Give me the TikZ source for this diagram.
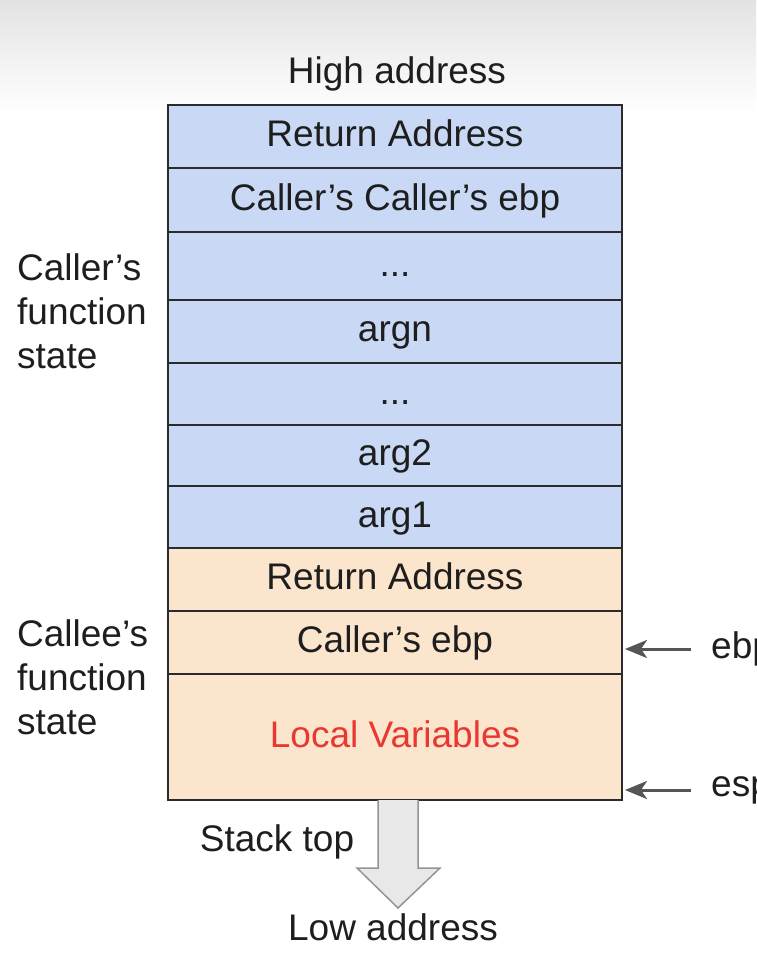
\documentclass[tikz,border=0pt]{standalone}
\usepackage{fontspec}
\setmainfont{Liberation Sans}
\usepackage{xcolor}
\usepackage{tikz}
\usetikzlibrary{positioning,calc,arrows.meta}

\definecolor{callerblue}{HTML}{C9D9F5}
\definecolor{calleepeach}{HTML}{FCE5CD}
\definecolor{framegray}{HTML}{2B2B2B}
\definecolor{inkgray}{HTML}{1E1E1E}
\definecolor{localred}{HTML}{E8382F}
\definecolor{ptrgray}{HTML}{555555}

\tikzset{
  cell/.style={draw=framegray,line width=2.5pt,minimum width=454pt,inner sep=0pt,outer sep=0pt,
    text height=27pt,text depth=7pt,text=inkgray},
  callercell/.style={cell,fill=callerblue},
  calleecell/.style={cell,fill=calleepeach},
  sidelabel/.style={align=left,anchor=west,inner sep=0pt,text=inkgray},
  ptr/.style={draw=ptrgray,line width=3pt,-{Stealth[length=22pt,width=18pt,inset=6pt]},shorten >=3pt}
}

\begin{document}
\begin{tikzpicture}[x=1pt,y=-1pt,font=\fontsize{37}{44}\selectfont]
    \useasboundingbox (0,0) rectangle (756,962);
    \clip (0,0) rectangle (756,962);
    \shade[top color=black!11,bottom color=white] (0,0) rectangle (756,112);

    \node[text=inkgray] (high) at (397,74) {High address};

    % Caller's frame
    \node[callercell,minimum height=63pt,anchor=north] (ret1) at (395,105) {Return Address};
    \node[callercell,minimum height=64pt,below=0pt of ret1] (cc) {Caller's Caller's ebp};
    \node[callercell,minimum height=68pt,below=0pt of cc] (dots1) {...};
    \node[callercell,minimum height=63pt,below=0pt of dots1] (argn) {argn};
    \node[callercell,minimum height=62pt,below=0pt of argn] (dots2) {...};
    \node[callercell,minimum height=61pt,below=0pt of dots2] (arg2) {arg2};
    \node[callercell,minimum height=62pt,below=0pt of arg2] (arg1) {arg1};

    % Callee's frame
    \node[calleecell,minimum height=63pt,below=0pt of arg1] (ret2) {Return Address};
    \node[calleecell,minimum height=63pt,below=0pt of ret2] (cebp) {Caller's ebp};
    \node[calleecell,minimum height=126pt,below=0pt of cebp,text=localred] (lv) {Local Variables};

    % Side labels
    \node[sidelabel] (callerlbl) at (17,311) {Caller's\\function\\state};
    \node[sidelabel] (calleelbl) at (17,677) {Callee's\\function\\state};

    % Register pointers
    \node[anchor=west,inner sep=0pt,text=inkgray] (ebp) at (711,649) {ebp};
    \node[anchor=west,inner sep=0pt,text=inkgray] (esp) at (711,790) {esp};
    \draw[ptr] ([xshift=-20pt]ebp.west) -- (cebp.east |- ebp.west);
    \draw[ptr] ([xshift=-20pt]esp.west) -- (lv.east |- esp.west);

    % Growth arrow
    \coordinate (grow) at ($(lv.south)+(3,0)$);
    \draw[draw=black!42,fill=black!9,line width=1.5pt,line join=miter]
      ($(grow)+(-20,0)$) -- ++(0,68) -- ++(-21,0) -- ($(grow)+(0,108)$)
      -- ($(grow)+(42,68)$) -- ++(-22,0) -- ($(grow)+(20,0)$);
    \node[text=inkgray] (top) at (277,842) {Stack top};
    \node[text=inkgray] (low) at (393,927) {Low address};
\end{tikzpicture}
\end{document}
